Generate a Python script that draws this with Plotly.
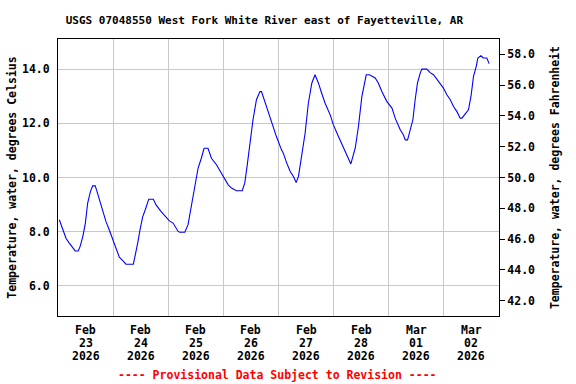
import pandas as pd
import plotly.graph_objects as go

# Hours since 2026-02-23 00:00 and water temperature (deg C)
hours = [0.57, 2.05, 3.48, 4.92, 6.40, 7.5, 8.8, 9.6, 10.8, 11.9, 12.9, 14.1, 15.1, 16.2, 17.0,
         18.0, 19.5, 20.9, 22.3, 23.8, 25.3, 26.7, 28.2, 29.6, 32.8, 33.7, 34.7, 35.7, 36.9,
         38.0, 39.5, 41.5, 42.7, 44.9, 47.0, 48.5, 50.1, 52.3, 53.0, 55.2, 56.6, 58.1, 59.5,
         61.0, 62.4, 63.6, 65.3, 66.8, 69.0, 71.1, 72.6, 74.1, 75.5, 77.7, 80.2, 81.3, 82.3,
         83.5, 84.9, 86.4, 87.9, 88.6, 90.0, 91.5, 92.9, 95.1, 97.3, 98.1, 99.6, 101.1, 102.5,
         103.7, 104.7, 106.2, 107.6, 109.0, 110.5, 111.9, 113.4, 114.8, 116.3, 118.5, 119.9,
         122.1, 124.3, 125.8, 127.5, 129.4, 130.8, 132.3, 134.2, 135.6, 138.1, 139.5, 141.0,
         143.2, 145.4, 146.8, 149.0, 150.4, 151.2, 152.2, 153.3, 154.5, 155.5, 156.5, 157.7,
         158.4, 160.6, 162.0, 163.5, 165.7, 167.8, 169.3, 170.8, 172.2, 173.7, 175.1, 175.9,
         177.3, 178.7, 179.8, 180.9, 182.1, 182.8, 184.1, 185.2, 186.7, 187.7]
temp_c = [8.44, 8.07, 7.76, 7.58, 7.43, 7.29, 7.29, 7.45, 7.82, 8.31, 9.05, 9.48, 9.69, 9.69, 9.48,
          9.18, 8.74, 8.37, 8.07, 7.70, 7.33, 7.06, 6.93, 6.80, 6.80, 7.14, 7.58, 8.07, 8.56,
          8.81, 9.20, 9.20, 8.99, 8.74, 8.56, 8.40, 8.32, 8.01, 7.98, 7.98, 8.25, 8.93, 9.54,
          10.35, 10.71, 11.08, 11.08, 10.71, 10.47, 10.16, 9.91, 9.73, 9.61, 9.51, 9.51, 9.79, 10.40,
          11.27, 12.13, 12.87, 13.17, 13.17, 12.80, 12.43, 12.01, 11.51, 11.02, 10.90, 10.53, 10.22, 10.04,
          9.81, 10.04, 10.84, 11.64, 12.74, 13.48, 13.79, 13.48, 13.11, 12.74, 12.31, 11.94,
          11.51, 11.08, 10.77, 10.50, 11.08, 11.88, 12.99, 13.79, 13.79, 13.67, 13.48, 13.17,
          12.80, 12.56, 12.19, 11.76, 11.57, 11.39, 11.39, 11.76, 12.13, 12.87, 13.48, 13.85,
          14.00, 14.00, 13.87, 13.79, 13.54, 13.30, 13.05, 12.87, 12.62, 12.43, 12.19, 12.19,
          12.35, 12.50, 12.99, 13.73, 14.10, 14.41, 14.49, 14.41, 14.41, 14.20]

# Tick label rows
day_dates = ["2026-02-23", "2026-02-24", "2026-02-25", "2026-02-26",
             "2026-02-27", "2026-02-28", "2026-03-01", "2026-03-02"]
month_labels = ["Feb", "Feb", "Feb", "Feb", "Feb", "Feb", "Mar", "Mar"]
day_labels = ["23", "24", "25", "26", "27", "28", "01", "02"]
year_labels = ["2026"] * 8

start = pd.Timestamp("2026-02-23")
times = start + pd.to_timedelta(hours, unit="h")
temp_f = [c * 1.8 + 32 for c in temp_c]
label_pos = [pd.Timestamp(d) + pd.Timedelta(hours=12) for d in day_dates]

FONT = "DejaVu Sans Mono"
fnt = dict(family=FONT, size=11.5, color="black", weight="bold")

fig = go.Figure()
fig.add_trace(go.Scatter(x=times, y=temp_c, mode="lines",
                         line=dict(color="#0000ff", width=1.1), showlegend=False))
fig.add_trace(go.Scatter(x=times, y=temp_f, mode="lines", yaxis="y2",
                         line=dict(color="rgba(0,0,0,0)", width=0), showlegend=False,
                         hoverinfo="skip"))

annotations = []
for rows, ypos in ((month_labels, -0.0505), (day_labels, -0.0986), (year_labels, -0.1444)):
    for xp, txt in zip(label_pos, rows):
        annotations.append(dict(text=txt, x=xp, y=ypos, xref="x", yref="paper",
                                xanchor="center", yanchor="middle", showarrow=False,
                                font=fnt))
annotations.append(dict(text="---- Provisional Data Subject to Revision ----",
                        x=0.498, y=-0.213, xref="paper", yref="paper",
                        xanchor="center", yanchor="middle", showarrow=False,
                        font=dict(family=FONT, size=11.5, color="red", weight="bold")))

fig.update_layout(
    width=576, height=384,
    margin=dict(l=58, r=77, t=39, b=68, autoexpand=False),
    paper_bgcolor="white", plot_bgcolor="white",
    font=fnt,
    title=dict(text="USGS 07048550 West Fork White River east of Fayetteville, AR",
               x=0.459, xref="container", xanchor="center",
               y=1 - 20 / 384, yref="container", yanchor="middle", automargin=False,
               font=dict(family=FONT, size=11, color="black", weight="bold")),
    xaxis=dict(
        range=[start, start + pd.Timedelta(days=8)],
        tickmode="array", tickvals=label_pos, ticktext=[""] * len(label_pos),
        showgrid=False, ticks="", automargin=False,
        showline=True, linecolor="black", linewidth=1, mirror=True,
        minor=dict(tickmode="linear", tick0="2026-02-23", dtick=86400000,
                   showgrid=True, gridcolor="#c8c8c8", gridwidth=1, ticks=""),
        zeroline=False,
    ),
    yaxis=dict(
        range=[4.89, 15.11], tickmode="linear", tick0=0, dtick=2, tickformat=".1f",
        showgrid=True, gridcolor="#c8c8c8", gridwidth=1, automargin=False,
        ticks="outside", ticklen=5, tickcolor="rgba(0,0,0,0)",
        showline=True, linecolor="black", linewidth=1, mirror=True, zeroline=False,
        tickfont=fnt,
        title=dict(text="Temperature, water, degrees Celsius", font=fnt, standoff=2),
    ),
    yaxis2=dict(
        range=[41.0, 59.0], overlaying="y", side="right", automargin=False,
        tickmode="linear", tick0=0, dtick=2, tickformat=".1f",
        showgrid=False, ticks="outside", ticklen=5, tickcolor="black",
        showline=True, linecolor="black", linewidth=1, zeroline=False,
        tickfont=fnt,
        title=dict(text="Temperature, water, degrees Fahrenheit", font=fnt, standoff=16),
    ),
    annotations=annotations,
)

fig.write_html("out.html", config={"displayModeBar": False, "staticPlot": True},
               post_script="document.body.style.margin='0';document.body.style.padding='0';")
